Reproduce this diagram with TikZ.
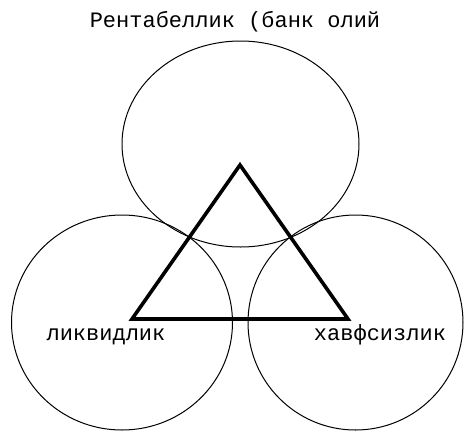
\documentclass[tikz,border=0pt]{standalone}
\usepackage{fontspec}
\usepackage{tikz}
\usetikzlibrary{shapes.geometric}
\newfontfamily\labelfont{Liberation Mono}
\definecolor{inkblack}{RGB}{0,0,0}

\begin{document}
\begin{tikzpicture}[x=1pt, y=-1pt,
  ring/.style={ellipse, draw=inkblack, line width=1pt, inner sep=0pt},
  tri/.style={draw=inkblack, line width=3.6pt},
  lbl/.style={anchor=base, inner sep=0pt, font=\labelfont\fontsize{22}{26}\selectfont}]

\useasboundingbox (0,0) rectangle (464,432);

% Three overlapping circles
\node[ring, minimum width=237, minimum height=206] (rent) at (240.5,144) {};
\node[ring, minimum width=221, minimum height=215] (liq) at (122,322.5) {};
\node[ring, minimum width=215, minimum height=215] (risk) at (355.5,322.5) {};

% Triangle between the centres
\coordinate (apex) at (240,165);
\coordinate (left) at (132,319);
\coordinate (right) at (348,319);
\draw[tri] (apex) -- (left) -- (right) -- cycle;

% Labels
\node[lbl] (rentlbl) at (235,27) {Рентабеллик (банк олий};
\node[lbl] (liqlbl) at (106,340) {ликвидлик};
\node[lbl] (risklbl) at (380,340) {хавфсизлик};

\end{tikzpicture}
\end{document}
